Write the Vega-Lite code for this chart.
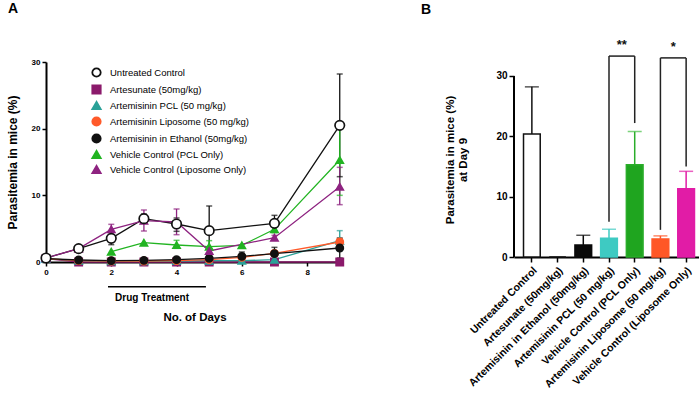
{
  "$schema": "https://vega.github.io/schema/vega-lite/v6.json",
  "background": "white",
  "padding": {"left": 6, "top": 2, "right": 0, "bottom": 0},
  "spacing": 72,
  "resolve": {"scale": {"color": "independent", "fill": "independent", "stroke": "independent", "shape": "independent"}, "legend": {"color": "independent", "fill": "independent", "stroke": "independent", "shape": "independent"}},
  "config": {
    "view": {"stroke": null},
    "font": "Liberation Sans",
    "axis": {"grid": false, "domainColor": "black", "domainWidth": 2, "tickColor": "black", "tickWidth": 1.5, "labelColor": "black", "titleColor": "black", "labelFontWeight": "bold", "titleFontWeight": "bold"},
    "title": {"color": "black", "fontWeight": "bold"}
  },
  "hconcat": [
    {
      "width": 297,
      "height": 200,
      "title": {"text": "A", "anchor": "start", "frame": "bounds", "fontSize": 14, "offset": 42, "dx": 2},
      "layer": [
        {
          "data": {"name": "ts"},
          "mark": {"type": "line", "strokeWidth": 1.3},
          "encoding": {
            "x": {"field": "d", "type": "quantitative", "scale": {"domain": [0, 9.1], "nice": false, "zero": false},
              "axis": {"title": "No. of Days", "titleFontSize": 11.5, "titlePadding": 35, "values": [0,0.5,1,1.5,2,2.5,3,3.5,4,4.5,5,5.5,6,6.5,7,7.5,8,8.5,9], "labelExpr": "datum.value % 2 == 0 ? datum.label : ''", "labelFontSize": 8, "tickSize": 4, "labelPadding": 2, "labelFlush": false, "labelOverlap": false}},
            "y": {"field": "v", "type": "quantitative", "scale": {"domain": [0, 30], "nice": false},
              "axis": {"title": "Parasitemia in mice (%)", "titleFontSize": 12, "values": [0, 10, 20, 30], "labelFontSize": 8, "tickSize": 4, "labelPadding": 2, "titlePadding": 12}},
            "color": {"field": "s", "type": "nominal", "legend": null, "sort": ["Untreated Control", "Artesunate (50mg/kg)", "Artemisinin PCL (50 mg/kg)", "Artemisinin Liposome (50 mg/kg)", "Artemisinin in Ethanol (50mg/kg)", "Vehicle Control (PCL Only)", "Vehicle Control (Liposome Only)"],
              "scale": {"range": ["#111111", "#8b1a6b", "#2aa198", "#ff5a2a", "#111111", "#22b422", "#8e2380"]}},
            "order": {"field": "d", "type": "quantitative"}
          }
        },
        {
          "data": {"name": "ts"},
          "transform": [{"filter": "datum.hi != null"}],
          "mark": {"type": "rule", "strokeWidth": 1.3},
          "encoding": {
            "x": {"field": "d", "type": "quantitative", "scale": {"domain": [0, 9.1], "nice": false, "zero": false}},
            "y": {"field": "lo", "type": "quantitative", "scale": {"domain": [0, 30], "nice": false}},
            "y2": {"field": "hi"},
            "color": {"field": "s", "type": "nominal", "legend": null, "sort": ["Untreated Control", "Artesunate (50mg/kg)", "Artemisinin PCL (50 mg/kg)", "Artemisinin Liposome (50 mg/kg)", "Artemisinin in Ethanol (50mg/kg)", "Vehicle Control (PCL Only)", "Vehicle Control (Liposome Only)"]}
          }
        },
        {
          "data": {"name": "ts"},
          "transform": [{"filter": "datum.hi != null"}],
          "mark": {"type": "tick", "orient": "horizontal", "size": 6, "thickness": 1.5},
          "encoding": {
            "x": {"field": "d", "type": "quantitative", "scale": {"domain": [0, 9.1], "nice": false, "zero": false}},
            "y": {"field": "hi", "type": "quantitative", "scale": {"domain": [0, 30], "nice": false}},
            "color": {"field": "s", "type": "nominal", "legend": null, "sort": ["Untreated Control", "Artesunate (50mg/kg)", "Artemisinin PCL (50 mg/kg)", "Artemisinin Liposome (50 mg/kg)", "Artemisinin in Ethanol (50mg/kg)", "Vehicle Control (PCL Only)", "Vehicle Control (Liposome Only)"]}
          }
        },
        {
          "data": {"name": "ts"},
          "transform": [{"filter": "datum.hi != null"}],
          "mark": {"type": "tick", "orient": "horizontal", "size": 6, "thickness": 1.5},
          "encoding": {
            "x": {"field": "d", "type": "quantitative", "scale": {"domain": [0, 9.1], "nice": false, "zero": false}},
            "y": {"field": "lo", "type": "quantitative", "scale": {"domain": [0, 30], "nice": false}},
            "color": {"field": "s", "type": "nominal", "legend": null, "sort": ["Untreated Control", "Artesunate (50mg/kg)", "Artemisinin PCL (50 mg/kg)", "Artemisinin Liposome (50 mg/kg)", "Artemisinin in Ethanol (50mg/kg)", "Vehicle Control (PCL Only)", "Vehicle Control (Liposome Only)"]}
          }
        },
        {
          "data": {"name": "ts"},
          "mark": {"type": "point", "strokeWidth": 1.5, "opacity": 1, "size": 55},
          "encoding": {
            "x": {"field": "d", "type": "quantitative", "scale": {"domain": [0, 9.1], "nice": false, "zero": false}},
            "y": {"field": "v", "type": "quantitative", "scale": {"domain": [0, 30], "nice": false}},
            "shape": {"field": "s", "type": "nominal", "scale": {"domain": ["Untreated Control", "Artesunate (50mg/kg)", "Artemisinin PCL (50 mg/kg)", "Artemisinin Liposome (50 mg/kg)", "Artemisinin in Ethanol (50mg/kg)", "Vehicle Control (PCL Only)", "Vehicle Control (Liposome Only)"], "range": ["circle", "square", "triangle-up", "circle", "circle", "triangle-up", "triangle-up"]},
              "legend": {"title": null, "orient": "none", "legendX": 45, "legendY": 5, "labelFont": "Liberation Sans", "labelFontSize": 9.5, "labelColor": "black", "symbolSize": 70, "symbolStrokeWidth": 1.8, "rowPadding": 0, "labelOffset": 8}},
            "fill": {"field": "s", "type": "nominal", "scale": {"domain": ["Untreated Control", "Artesunate (50mg/kg)", "Artemisinin PCL (50 mg/kg)", "Artemisinin Liposome (50 mg/kg)", "Artemisinin in Ethanol (50mg/kg)", "Vehicle Control (PCL Only)", "Vehicle Control (Liposome Only)"], "range": ["white", "#8b1a6b", "#2aa198", "#ff5a2a", "#111111", "#22b422", "#8e2380"]},
              "legend": {"title": null, "orient": "none", "legendX": 45, "legendY": 5, "labelFont": "Liberation Sans", "labelFontSize": 9.5, "labelColor": "black", "symbolSize": 70, "symbolStrokeWidth": 1.8, "rowPadding": 0, "labelOffset": 8}},
            "stroke": {"field": "s", "type": "nominal", "scale": {"domain": ["Untreated Control", "Artesunate (50mg/kg)", "Artemisinin PCL (50 mg/kg)", "Artemisinin Liposome (50 mg/kg)", "Artemisinin in Ethanol (50mg/kg)", "Vehicle Control (PCL Only)", "Vehicle Control (Liposome Only)"], "range": ["#111111", "#8b1a6b", "#2aa198", "#ff5a2a", "#111111", "#22b422", "#8e2380"]},
              "legend": {"title": null, "orient": "none", "legendX": 45, "legendY": 5, "labelFont": "Liberation Sans", "labelFontSize": 9.5, "labelColor": "black", "symbolSize": 70, "symbolStrokeWidth": 1.8, "rowPadding": 0, "labelOffset": 8}}
          }
        },
        {
          "data": {"name": "ts"},
          "transform": [{"filter": "datum.s == 'Untreated Control'"}],
          "mark": {"type": "point", "shape": "circle", "size": 90, "strokeWidth": 1.7, "fill": "white", "stroke": "#111111", "opacity": 1, "fillOpacity": 1},
          "encoding": {
            "x": {"field": "d", "type": "quantitative", "scale": {"domain": [0, 9.1], "nice": false, "zero": false}},
            "y": {"field": "v", "type": "quantitative", "scale": {"domain": [0, 30], "nice": false}}
          }
        },
        {
          "data": {"values": [{"x1": 1.9, "x2": 4.9, "yl": -3.7}]},
          "mark": {"type": "rule", "strokeWidth": 1.5, "color": "black"},
          "encoding": {
            "x": {"field": "x1", "type": "quantitative", "scale": {"domain": [0, 9.1], "nice": false, "zero": false}},
            "x2": {"field": "x2"},
            "y": {"field": "yl", "type": "quantitative", "scale": {"domain": [0, 30], "nice": false}}
          }
        },
        {
          "data": {"values": [{"xm": 3.25, "yt": -4.6, "label": "Drug Treatment"}]},
          "mark": {"type": "text", "fontWeight": "bold", "fontSize": 10, "baseline": "top", "align": "center", "color": "black"},
          "encoding": {
            "x": {"field": "xm", "type": "quantitative", "scale": {"domain": [0, 9.1], "nice": false, "zero": false}},
            "y": {"field": "yt", "type": "quantitative", "scale": {"domain": [0, 30], "nice": false}},
            "text": {"field": "label"}
          }
        }
      ]
    },
    {
      "width": 190,
      "height": 195,
      "title": {"text": "B", "anchor": "start", "frame": "bounds", "fontSize": 14, "offset": 22, "dx": -24},
      "resolve": {"scale": {"x": "independent"}, "axis": {"x": "independent"}},
      "layer": [
        {
          "layer": [
            {
              "data": {"name": "bars"},
              "mark": {"type": "bar", "strokeWidth": 1.5},
              "encoding": {
                "x": {"field": "g", "type": "nominal", "sort": null,
                  "scale": {"domain": ["Untreated Control", "Artesunate (50mg/kg)", "Artemisinin in Ethanol (50mg/kg)", "Artemisinin PCL (50 mg/kg)", "Vehicle Control (PCL Only)", "Artemisinin Liposome (50 mg/kg)", "Vehicle Control (Liposome Only)"], "paddingInner": 0.35, "paddingOuter": 0.37},
                  "axis": {"title": null, "labelAngle": -45, "labelFontSize": 10.5, "tickSize": 5, "labelPadding": 3, "labelLimit": 300}},
                "y": {"field": "v", "type": "quantitative", "scale": {"domain": [0, 32.32], "nice": false},
                  "axis": {"title": ["Parasitemia in mice (%)", "at Day 9"], "titleFontSize": 11.5, "titleLineHeight": 13, "values": [0, 10, 20, 30], "labelFontSize": 10, "tickSize": 5, "labelPadding": 2, "titlePadding": 27, "domain": false}},
                "fill": {"field": "g", "type": "nominal", "legend": null,
                  "scale": {"domain": ["Untreated Control", "Artesunate (50mg/kg)", "Artemisinin in Ethanol (50mg/kg)", "Artemisinin PCL (50 mg/kg)", "Vehicle Control (PCL Only)", "Artemisinin Liposome (50 mg/kg)", "Vehicle Control (Liposome Only)"], "range": ["white", "white", "#0a0a0a", "#3ecac2", "#1fa51f", "#ff5726", "#e11ca6"]}},
                "stroke": {"field": "g", "type": "nominal", "legend": null,
                  "scale": {"domain": ["Untreated Control", "Artesunate (50mg/kg)", "Artemisinin in Ethanol (50mg/kg)", "Artemisinin PCL (50 mg/kg)", "Vehicle Control (PCL Only)", "Artemisinin Liposome (50 mg/kg)", "Vehicle Control (Liposome Only)"], "range": ["#111111", "#111111", "#0a0a0a", "#3ecac2", "#2aad2a", "#ff5726", "#e11ca6"]}}
              }
            },
            {
              "data": {"name": "bars"},
              "transform": [{"filter": "datum.hi != null"}],
              "mark": {"type": "rule", "strokeWidth": 1.5},
              "encoding": {
                "x": {"field": "g", "type": "nominal", "sort": null},
                "y": {"field": "v", "type": "quantitative", "scale": {"domain": [0, 32.32], "nice": false}},
                "y2": {"field": "hi"},
                "stroke": {"field": "g", "type": "nominal", "legend": null}
              }
            },
            {
              "data": {"name": "bars"},
              "transform": [{"filter": "datum.hi != null"}],
              "mark": {"type": "tick", "orient": "horizontal", "size": 14, "thickness": 1.5},
              "encoding": {
                "x": {"field": "g", "type": "nominal", "sort": null},
                "y": {"field": "hi", "type": "quantitative", "scale": {"domain": [0, 32.32], "nice": false}},
                "color": {"field": "g", "type": "nominal", "legend": null,
                  "scale": {"domain": ["Untreated Control", "Artesunate (50mg/kg)", "Artemisinin in Ethanol (50mg/kg)", "Artemisinin PCL (50 mg/kg)", "Vehicle Control (PCL Only)", "Artemisinin Liposome (50 mg/kg)", "Vehicle Control (Liposome Only)"], "range": ["#111111", "#111111", "#0a0a0a", "#3ecac2", "#44c044", "#ff5726", "#e11ca6"]}}
              }
            },
            {
              "data": {"name": "brackets"},
              "mark": {"type": "rule", "strokeWidth": 1.5, "color": "#222222"},
              "encoding": {
                "x": {"field": "a", "type": "nominal", "sort": null},
                "x2": {"field": "b"},
                "y": {"field": "top", "type": "quantitative", "scale": {"domain": [0, 32.32], "nice": false}}
              }
            },
            {
              "data": {"name": "brackets"},
              "mark": {"type": "rule", "strokeWidth": 1.5, "color": "#222222"},
              "encoding": {
                "x": {"field": "a", "type": "nominal", "sort": null},
                "y": {"field": "la", "type": "quantitative", "scale": {"domain": [0, 32.32], "nice": false}},
                "y2": {"field": "top"}
              }
            },
            {
              "data": {"name": "brackets"},
              "mark": {"type": "rule", "strokeWidth": 1.5, "color": "#222222"},
              "encoding": {
                "x": {"field": "b", "type": "nominal", "sort": null},
                "y": {"field": "lb", "type": "quantitative", "scale": {"domain": [0, 32.32], "nice": false}},
                "y2": {"field": "top"}
              }
            },
            {
              "data": {"name": "brackets"},
              "mark": {"type": "text", "fontWeight": "bold", "fontSize": 13, "baseline": "middle", "align": "center", "color": "#111111"},
              "encoding": {
                "x": {"field": "a", "type": "nominal", "sort": null, "bandPosition": 1.27},
                "y": {"field": "ts", "type": "quantitative", "scale": {"domain": [0, 32.32], "nice": false}},
                "text": {"field": "star"}
              }
            }
          ]
        },
        {
          "data": {"values": [{"ax": 0, "y0": 0, "y1": 30}]},
          "mark": {"type": "rule", "strokeWidth": 2, "color": "black"},
          "encoding": {
            "x": {"field": "ax", "type": "quantitative", "scale": {"domain": [0, 1], "nice": false}, "axis": null},
            "y": {"field": "y0", "type": "quantitative", "scale": {"domain": [0, 32.32], "nice": false}},
            "y2": {"field": "y1"}
          }
        }
      ]
    }
  ],
  "datasets": {
    "ts": [
      {"s": "Untreated Control", "d": 0, "v": 0.6},
      {"s": "Untreated Control", "d": 1, "v": 2.0},
      {"s": "Untreated Control", "d": 2, "v": 3.55, "lo": 2.6, "hi": 4.5},
      {"s": "Untreated Control", "d": 3, "v": 6.5, "lo": 5.8, "hi": 7.2},
      {"s": "Untreated Control", "d": 4, "v": 5.7, "lo": 4.6, "hi": 6.6},
      {"s": "Untreated Control", "d": 5, "v": 4.7, "lo": 1.0, "hi": 8.4},
      {"s": "Untreated Control", "d": 7, "v": 5.8, "lo": 4.6, "hi": 7.0},
      {"s": "Untreated Control", "d": 9, "v": 20.5, "lo": 12.8, "hi": 28.2},
      {"s": "Artesunate (50mg/kg)", "d": 0, "v": 0.5},
      {"s": "Artesunate (50mg/kg)", "d": 1, "v": 0},
      {"s": "Artesunate (50mg/kg)", "d": 2, "v": 0},
      {"s": "Artesunate (50mg/kg)", "d": 3, "v": 0},
      {"s": "Artesunate (50mg/kg)", "d": 4, "v": 0},
      {"s": "Artesunate (50mg/kg)", "d": 5, "v": 0},
      {"s": "Artesunate (50mg/kg)", "d": 7, "v": 0},
      {"s": "Artesunate (50mg/kg)", "d": 9, "v": 0},
      {"s": "Artemisinin PCL (50 mg/kg)", "d": 0, "v": 0.5},
      {"s": "Artemisinin PCL (50 mg/kg)", "d": 1, "v": 0.2},
      {"s": "Artemisinin PCL (50 mg/kg)", "d": 2, "v": 0.1},
      {"s": "Artemisinin PCL (50 mg/kg)", "d": 3, "v": 0.1},
      {"s": "Artemisinin PCL (50 mg/kg)", "d": 4, "v": 0.15},
      {"s": "Artemisinin PCL (50 mg/kg)", "d": 5, "v": 0.2},
      {"s": "Artemisinin PCL (50 mg/kg)", "d": 6, "v": 0.2},
      {"s": "Artemisinin PCL (50 mg/kg)", "d": 7, "v": 0.35},
      {"s": "Artemisinin PCL (50 mg/kg)", "d": 9, "v": 3.2, "lo": 1.7, "hi": 4.7},
      {"s": "Artemisinin Liposome (50 mg/kg)", "d": 0, "v": 0.5},
      {"s": "Artemisinin Liposome (50 mg/kg)", "d": 1, "v": 0.2},
      {"s": "Artemisinin Liposome (50 mg/kg)", "d": 2, "v": 0.15},
      {"s": "Artemisinin Liposome (50 mg/kg)", "d": 3, "v": 0.15},
      {"s": "Artemisinin Liposome (50 mg/kg)", "d": 4, "v": 0.2},
      {"s": "Artemisinin Liposome (50 mg/kg)", "d": 5, "v": 0.35},
      {"s": "Artemisinin Liposome (50 mg/kg)", "d": 6, "v": 0.7},
      {"s": "Artemisinin Liposome (50 mg/kg)", "d": 7, "v": 1.3, "lo": 0.9, "hi": 1.7},
      {"s": "Artemisinin Liposome (50 mg/kg)", "d": 9, "v": 3.0, "lo": 2.5, "hi": 3.5},
      {"s": "Artemisinin in Ethanol (50mg/kg)", "d": 0, "v": 0.5},
      {"s": "Artemisinin in Ethanol (50mg/kg)", "d": 1, "v": 0.3},
      {"s": "Artemisinin in Ethanol (50mg/kg)", "d": 2, "v": 0.2},
      {"s": "Artemisinin in Ethanol (50mg/kg)", "d": 3, "v": 0.25},
      {"s": "Artemisinin in Ethanol (50mg/kg)", "d": 4, "v": 0.35},
      {"s": "Artemisinin in Ethanol (50mg/kg)", "d": 5, "v": 0.55},
      {"s": "Artemisinin in Ethanol (50mg/kg)", "d": 6, "v": 0.85, "lo": 0.3, "hi": 1.5},
      {"s": "Artemisinin in Ethanol (50mg/kg)", "d": 7, "v": 1.25, "lo": 0.3, "hi": 2.2},
      {"s": "Artemisinin in Ethanol (50mg/kg)", "d": 9, "v": 2.1, "lo": 0.6, "hi": 3.6},
      {"s": "Vehicle Control (PCL Only)", "d": 2, "v": 1.55},
      {"s": "Vehicle Control (PCL Only)", "d": 3, "v": 2.9},
      {"s": "Vehicle Control (PCL Only)", "d": 4, "v": 2.55, "lo": 2.05, "hi": 3.25},
      {"s": "Vehicle Control (PCL Only)", "d": 5, "v": 2.3, "lo": 1.3, "hi": 3.2},
      {"s": "Vehicle Control (PCL Only)", "d": 6, "v": 2.5},
      {"s": "Vehicle Control (PCL Only)", "d": 7, "v": 4.9, "lo": 4.4, "hi": 5.4},
      {"s": "Vehicle Control (PCL Only)", "d": 9, "v": 15.3, "lo": 10.0, "hi": 20.6},
      {"s": "Vehicle Control (Liposome Only)", "d": 0, "v": 0.6},
      {"s": "Vehicle Control (Liposome Only)", "d": 1, "v": 2.0},
      {"s": "Vehicle Control (Liposome Only)", "d": 2, "v": 4.9, "lo": 4.2, "hi": 5.65},
      {"s": "Vehicle Control (Liposome Only)", "d": 3, "v": 6.2, "lo": 4.65, "hi": 7.8},
      {"s": "Vehicle Control (Liposome Only)", "d": 4, "v": 6.0, "lo": 4.1, "hi": 7.95},
      {"s": "Vehicle Control (Liposome Only)", "d": 5, "v": 1.65},
      {"s": "Vehicle Control (Liposome Only)", "d": 7, "v": 3.65, "lo": 3.3, "hi": 4.0},
      {"s": "Vehicle Control (Liposome Only)", "d": 9, "v": 11.3, "lo": 8.6, "hi": 14.2}
    ],
    "bars": [
      {"g": "Untreated Control", "v": 20.4, "hi": 28.2},
      {"g": "Artesunate (50mg/kg)", "v": 0},
      {"g": "Artemisinin in Ethanol (50mg/kg)", "v": 2.0, "hi": 3.6},
      {"g": "Artemisinin PCL (50 mg/kg)", "v": 3.1, "hi": 4.6},
      {"g": "Vehicle Control (PCL Only)", "v": 15.3, "hi": 20.8},
      {"g": "Artemisinin Liposome (50 mg/kg)", "v": 3.0, "hi": 3.5},
      {"g": "Vehicle Control (Liposome Only)", "v": 11.3, "hi": 14.2}
    ],
    "brackets": [
      {"a": "Artemisinin PCL (50 mg/kg)", "b": "Vehicle Control (PCL Only)", "top": 33.3, "la": 5.85, "lb": 22.2, "ts": 35.1, "star": "**"},
      {"a": "Artemisinin Liposome (50 mg/kg)", "b": "Vehicle Control (Liposome Only)", "top": 33.0, "la": 4.5, "lb": 15.0, "ts": 34.8, "star": "*"}
    ]
  }
}
